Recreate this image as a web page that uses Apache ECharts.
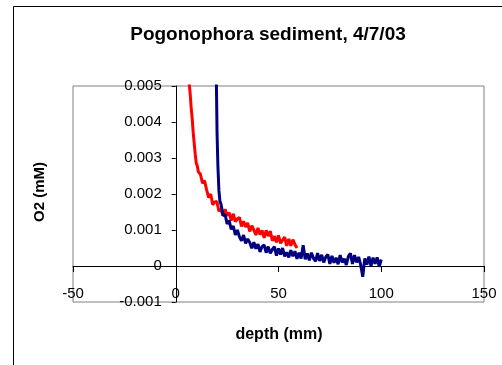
<!DOCTYPE html>
<html>
<head>
<meta charset="utf-8">
<script src="https://cdn.jsdelivr.net/npm/echarts@6/dist/echarts.min.js"></script>
<style>
html,body{margin:0;padding:0;background:#fff;}
#chart{width:502px;height:365px;}
</style>
</head>
<body>
<div id="chart"></div>
<script>
// ---- data ----
const titleText = 'Pogonophora sediment, 4/7/03';
const xAxisName = 'depth (mm)';
const yAxisName = 'O2 (mM)';
const xTicks = [-50, 0, 50, 100, 150];
const yTicks = [-0.001, 0, 0.001, 0.002, 0.003, 0.004, 0.005];

const depthRed = [6, 6.5, 7, 7.5, 8, 8.5, 9, 9.5, 10, 10.5, 11, 12, 13, 14, 15, 16, 17, 18, 19, 20,
  21, 22, 23, 24, 25, 26, 27, 28, 29, 30, 31, 32, 33, 34, 35, 36, 37, 38, 39, 40,
  41, 42, 43, 44, 45, 46, 47, 48, 49, 50, 51, 52, 53, 54, 55, 56, 57, 58, 59];
const o2Red = [0.0054, 0.0051, 0.0048, 0.0044, 0.0041, 0.0037, 0.0034, 0.0031, 0.00285, 0.00278,
  0.00262, 0.00255, 0.0023, 0.00237, 0.00212, 0.0019, 0.002, 0.0017, 0.00178, 0.00179,
  0.00152, 0.00158, 0.0014, 0.00158, 0.0014, 0.00148, 0.00126, 0.00145, 0.00123, 0.00131,
  0.00135, 0.0011, 0.00124, 0.00108, 0.0012, 0.00096, 0.00112, 0.001, 0.00086, 0.00106,
  0.00087, 0.00099, 0.00078, 0.00099, 0.00083, 0.00097, 0.0007, 0.00083, 0.00066, 0.00085,
  0.00063, 0.00072, 0.0008, 0.00056, 0.00075, 0.00056, 0.00073, 0.0006, 0.0005];

const depthNavy = [19.6, 19.8, 20.1, 20.5, 21, 21.5, 22, 23, 24, 25, 26, 27, 28, 29, 30,
  31, 32, 33, 34, 35, 36, 37, 38, 39, 40, 41, 42, 43, 44, 45, 46, 47, 48, 49, 50,
  51, 52, 53, 54, 55, 56, 57, 58, 59, 60, 61, 62, 63, 64, 65, 66, 67, 68, 69, 70,
  71, 72, 73, 74, 75, 76, 77, 78, 79, 80, 81, 82, 83, 84, 85, 86, 87, 88, 89, 90,
  91, 92, 93, 94, 95, 96, 97, 98, 99, 100];
const o2Navy = [0.0056, 0.005, 0.0037, 0.0028, 0.0021, 0.0018, 0.00172, 0.0014, 0.00143, 0.00117,
  0.00126, 0.00102, 0.00111, 0.00086, 0.001, 0.00081, 0.0007, 0.00086, 0.00063, 0.00075,
  0.00065, 0.00049, 0.00066, 0.00048, 0.00061, 0.00039, 0.00054, 0.00059, 0.00037, 0.00054,
  0.00035, 0.00046, 0.00054, 0.00029, 0.00049, 0.00032, 0.0005, 0.00027, 0.00038, 0.00024,
  0.00044, 0.00027, 0.00041, 0.0002, 0.00037, 0.00021, 0.00058, 0.00019, 0.00035, 0.00016,
  0.00037, 0.00022, 0.00013, 0.00036, 0.00014, 0.00031, 0.0001, 0.00025, 0.00032, 0.00006,
  0.00028, 0.00009, 0.00023, 0.00005, 0.0003, 0.0001, 0.0002, 0.00003, 0.00027, 0.00035,
  0.00006, 0.0003, 0.0001, 0.00025, 0.00003, -0.0003, 0.00021, 0.00004, 0.00026, 0.0,
  0.00023, 0.00006, 0.00024, -0.00002, 0.00018];

const font = "'Liberation Sans', Arial, sans-serif";
const chart = echarts.init(document.getElementById('chart'), null, {renderer: 'canvas'});

function pairs(xs, ys) { return xs.map((x, i) => [x, ys[i]]); }

const gridLeft = 73, gridTop = 86, gridW = 411, gridH = 216;
const xMin = xTicks[0], xMax = xTicks[xTicks.length - 1];
const yMin = yTicks[0], yMax = yTicks[yTicks.length - 1];
// offsets that place each axis at the other axis' zero
const yAxisOffset = -((0 - xMin) / (xMax - xMin)) * gridW;
const xAxisOffset = -((0 - yMin) / (yMax - yMin)) * gridH;

chart.setOption({
  animation: false,
  backgroundColor: '#ffffff',
  title: {
    text: titleText,
    left: 263,
    top: 20,
    textAlign: 'center',
    textStyle: {fontFamily: font, fontSize: 19, fontWeight: 'bold', color: '#000'}
  },
  grid: {
    left: gridLeft, top: gridTop, width: gridW, height: gridH,
    show: true, borderColor: '#808080', borderWidth: 1, backgroundColor: 'transparent'
  },
  xAxis: {
    type: 'value', position: 'bottom', offset: xAxisOffset,
    min: xMin, max: xMax, interval: 50,
    axisLine: {onZero: false, lineStyle: {color: '#000', width: 1}},
    axisTick: {show: true, length: 6, lineStyle: {color: '#000'}},
    axisLabel: {fontFamily: font, fontSize: 15, color: '#000', margin: 20},
    splitLine: {show: false}
  },
  yAxis: {
    type: 'value', position: 'left', offset: yAxisOffset,
    min: yMin, max: yMax, interval: 0.001,
    axisLine: {onZero: false, lineStyle: {color: '#000', width: 1}},
    axisTick: {show: true, length: 4, lineStyle: {color: '#000'}},
    axisLabel: {
      fontFamily: font, fontSize: 15, color: '#000', margin: 14,
      formatter: v => (Math.abs(v) < 1e-9 ? '0' : v.toFixed(3))
    },
    splitLine: {show: false}
  },
  graphic: [
    {type: 'rect', shape: {x: 13.5, y: 6.5, width: 600, height: 400}, style: {fill: 'none', stroke: '#000', lineWidth: 1}, z: -1, silent: true},
    {type: 'text', x: 279, y: 335, style: {text: xAxisName, align: 'center', verticalAlign: 'middle', font: 'bold 16px ' + font, fill: '#000'}},
    {type: 'text', rotation: Math.PI / 2, x: 40, y: 192, style: {text: yAxisName, align: 'center', verticalAlign: 'middle', font: 'bold 15px ' + font, fill: '#000'}}
  ],
  series: [
    {type: 'line', data: pairs(depthRed, o2Red), showSymbol: false, clip: true,
     lineStyle: {color: '#ff0000', width: 3}, itemStyle: {color: '#ff0000'}},
    {type: 'line', data: pairs(depthNavy, o2Navy), showSymbol: false, clip: true,
     lineStyle: {color: '#000080', width: 3}, itemStyle: {color: '#000080'}}
  ]
});
</script>
</body>
</html>
